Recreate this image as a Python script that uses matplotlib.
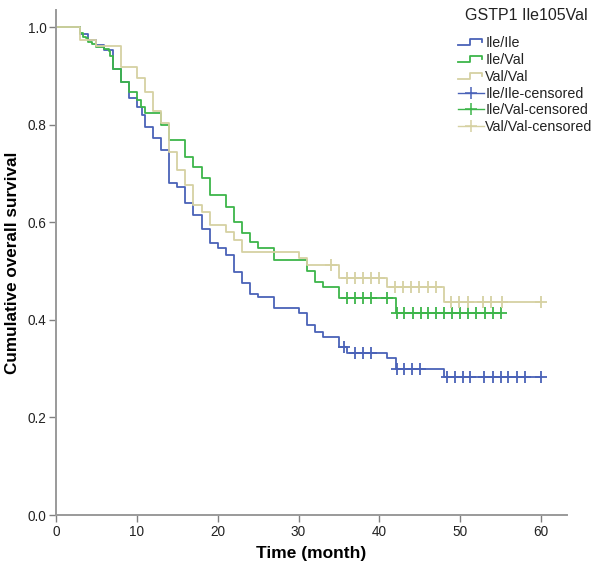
import numpy as np
import matplotlib
matplotlib.use("Agg")
import matplotlib.pyplot as plt
from matplotlib.legend_handler import HandlerBase
from matplotlib.lines import Line2D

plt.rcParams['font.family'] = ['Liberation Sans', 'DejaVu Sans']

# ---------------- data ----------------
groups = ["Ile/Ile", "Ile/Val", "Val/Val"]
legend_title = "GSTP1 Ile105Val"

# Ile/Ile
ile_ile_times = [3, 4, 5, 6, 7, 8, 9, 10, 10.6, 11, 12, 13, 14, 15, 16, 17, 18, 19, 20, 21,
                 22, 23, 24, 25, 27, 30, 31, 32, 33, 35, 36, 41, 42, 48]
ile_ile_surv = [0.985, 0.973, 0.963, 0.953, 0.915, 0.888, 0.854, 0.837, 0.82, 0.796, 0.772,
                0.748, 0.680, 0.673, 0.639, 0.615, 0.587, 0.557, 0.547, 0.533, 0.499, 0.475,
                0.454, 0.447, 0.424, 0.414, 0.389, 0.375, 0.365, 0.344, 0.332, 0.322, 0.299,
                0.283]
ile_ile_censor = [35.6, 37, 38, 39, 42.2, 43, 44, 45, 48.4, 49.3, 50.3, 51.2, 52.9, 54.0,
                  55.0, 55.9, 57.0, 58.0, 60.0]

# Ile/Val
ile_val_times = [3, 3.3, 3.7, 4, 4.5, 5, 6, 6.5, 6.7, 7, 8, 9, 10, 10.5, 11, 13, 14, 16, 17,
                 18, 19, 21, 22, 23, 24, 25, 27, 31, 32, 33, 35, 42]
ile_val_surv = [0.987, 0.98, 0.977, 0.97, 0.966, 0.96, 0.955, 0.95, 0.94, 0.915, 0.888,
                0.867, 0.85, 0.837, 0.823, 0.80, 0.768, 0.734, 0.714, 0.69, 0.656, 0.632,
                0.601, 0.577, 0.56, 0.547, 0.523, 0.500, 0.477, 0.467, 0.445, 0.414]
ile_val_censor = [36, 37, 38, 39, 41, 42.2, 43.1, 44.1, 45.1, 46, 47, 48, 49, 50, 51, 52, 53,
                  54, 55]

# Val/Val
val_val_times = [3, 5, 8, 10, 11, 12, 13, 14, 15, 16, 17, 18, 19, 21, 22, 23, 30, 31, 35,
                 41, 48]
val_val_surv = [0.973, 0.962, 0.919, 0.895, 0.867, 0.828, 0.803, 0.744, 0.707, 0.676, 0.635,
                0.621, 0.594, 0.58, 0.564, 0.54, 0.527, 0.512, 0.486, 0.467, 0.436]
val_val_censor = [34, 36, 37, 38, 39, 40, 41.9, 42.9, 43.9, 44.9, 46, 47, 48.9, 49.9, 50.9,
                  52.8, 53.8, 55.1, 60.0]

x_ticks = [0, 10, 20, 30, 40, 50, 60]
y_ticks = [0.0, 0.2, 0.4, 0.6, 0.8, 1.0]

colors = ["#4A62B8", "#3DB54A", "#D6D1A2"]

series = [
    (ile_ile_times, ile_ile_surv, ile_ile_censor),
    (ile_val_times, ile_val_surv, ile_val_censor),
    (val_val_times, val_val_surv, val_val_censor),
]

# ---------------- figure ----------------
fig = plt.figure(figsize=(6.0, 5.73), dpi=100)
ax = fig.add_axes([0.0933, 0.1012, 0.8517, 0.8813])

def level_at(times, surv, t):
    idx = np.searchsorted(np.asarray(times), t, side='right') - 1
    return 1.0 if idx < 0 else surv[idx]

line_handles = []
cens_handles = []
for (times, surv, cens), col, name in zip(series, colors, groups):
    end = max(cens[-1], times[-1])
    xs = [0] + list(times) + [end]
    ys = [1.0] + list(surv) + [surv[-1]]
    ax.step(xs, ys, where='post', color=col, lw=1.3, zorder=2)
    cy = [level_at(times, surv, c) for c in cens]
    ax.plot(cens, cy, ls='none', marker='+', ms=8, mew=1.3, color=col, zorder=3)
    line_handles.append(Line2D([], [], color=col, lw=1.3, label=name))
    cens_handles.append(Line2D([], [], color=col, lw=1.0, marker='+', ms=9, mew=1.1,
                               label=name + "-censored"))

ax.set_xlim(0, 63.2)
ax.set_ylim(0, 1.035)
ax.set_xticks(x_ticks)
ax.set_yticks(y_ticks)
ax.set_yticklabels([f"{v:.1f}" for v in y_ticks])
ax.tick_params(axis='both', labelsize=9.8, direction='out',
               length=5, width=1.0, pad=2, colors='#808080', labelcolor='#222222')
for s in ['top', 'right']:
    ax.spines[s].set_visible(False)
for s in ['left', 'bottom']:
    ax.spines[s].set_color('#9a9a9a')
    ax.spines[s].set_linewidth(1.4)

ax.set_xlabel("Time (month)", fontsize=12.5, fontweight='bold', labelpad=5)
ax.set_ylabel("Cumulative overall survival", fontsize=12.3, fontweight='bold', labelpad=5)


class StepHandler(HandlerBase):
    def create_artists(self, legend, orig_handle, xdescent, ydescent, width, height,
                       fontsize, trans):
        w, h = width, height
        x = np.array([0, 0.45, 0.45, 0.95, 0.95]) * w - xdescent
        y = np.array([0.15, 0.15, 0.75, 0.75, 0.45]) * h - ydescent
        ln = Line2D(x, y, color=orig_handle.get_color(), lw=1.3)
        ln.set_transform(trans)
        return [ln]


fig.text(465 / 600, 1 - 15 / 573, legend_title, fontsize=11.5, ha='left', va='center',
         color='#222222')

handles = line_handles + cens_handles
handler_map = {h: StepHandler() for h in line_handles}
leg = fig.legend(handles=handles, labels=[h.get_label() for h in handles],
                 handler_map=handler_map,
                 loc='upper left', bbox_to_anchor=(458 / 600, 1 - 36 / 573), frameon=False,
                 fontsize=10.3, handlelength=1.8, handletextpad=0.1,
                 labelspacing=0.2, borderaxespad=0.0, borderpad=0.0)
for t in leg.get_texts():
    t.set_color('#222222')

fig.savefig("out.png", dpi=100, facecolor='white')
